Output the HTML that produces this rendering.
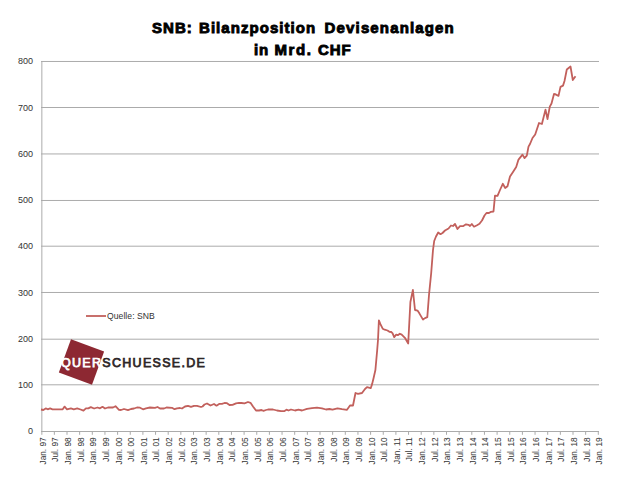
<!DOCTYPE html>
<html><head><meta charset="utf-8"><style>
html,body{margin:0;padding:0;background:#fff;width:620px;height:479px;overflow:hidden}
svg{display:block}
text{font-family:"Liberation Sans",sans-serif}
.yl{font-size:9px;fill:#333}
.xl{font-size:8.3px;fill:#333}
.lg{font-size:8.6px;letter-spacing:0.05px;fill:#333}
.logo{font-size:12.5px;letter-spacing:1.3px;stroke-width:0.75px}
.t1{font-size:15px;font-weight:bold;fill:#000;stroke:#000;stroke-width:0.9px;letter-spacing:0.5px}
</style></head><body>
<svg width="620" height="479" viewBox="0 0 620 479">
<rect width="620" height="479" fill="#ffffff"/>
<line x1="41" y1="61.47" x2="599" y2="61.47" stroke="#ababab" stroke-width="1"/>
<line x1="41" y1="107.5" x2="599" y2="107.5" stroke="#ababab" stroke-width="1"/>
<line x1="41" y1="153.95" x2="599" y2="153.95" stroke="#ababab" stroke-width="1"/>
<line x1="41" y1="200.47" x2="599" y2="200.47" stroke="#ababab" stroke-width="1"/>
<line x1="41" y1="246.2" x2="599" y2="246.2" stroke="#ababab" stroke-width="1"/>
<line x1="41" y1="292.47" x2="599" y2="292.47" stroke="#ababab" stroke-width="1"/>
<line x1="41" y1="339.2" x2="599" y2="339.2" stroke="#ababab" stroke-width="1"/>
<line x1="41" y1="384.8" x2="599" y2="384.8" stroke="#ababab" stroke-width="1"/>
<line x1="41.85" y1="61" x2="41.85" y2="434.8" stroke="#ababab" stroke-width="1"/>
<line x1="41" y1="431.5" x2="599" y2="431.5" stroke="#ababab" stroke-width="1"/>
<line x1="54.35" y1="431" x2="54.35" y2="434.8" stroke="#ababab" stroke-width="1"/>
<line x1="67.00" y1="431" x2="67.00" y2="434.8" stroke="#ababab" stroke-width="1"/>
<line x1="79.65" y1="431" x2="79.65" y2="434.8" stroke="#ababab" stroke-width="1"/>
<line x1="92.30" y1="431" x2="92.30" y2="434.8" stroke="#ababab" stroke-width="1"/>
<line x1="104.95" y1="431" x2="104.95" y2="434.8" stroke="#ababab" stroke-width="1"/>
<line x1="117.60" y1="431" x2="117.60" y2="434.8" stroke="#ababab" stroke-width="1"/>
<line x1="130.25" y1="431" x2="130.25" y2="434.8" stroke="#ababab" stroke-width="1"/>
<line x1="142.90" y1="431" x2="142.90" y2="434.8" stroke="#ababab" stroke-width="1"/>
<line x1="155.55" y1="431" x2="155.55" y2="434.8" stroke="#ababab" stroke-width="1"/>
<line x1="168.20" y1="431" x2="168.20" y2="434.8" stroke="#ababab" stroke-width="1"/>
<line x1="180.85" y1="431" x2="180.85" y2="434.8" stroke="#ababab" stroke-width="1"/>
<line x1="193.50" y1="431" x2="193.50" y2="434.8" stroke="#ababab" stroke-width="1"/>
<line x1="206.15" y1="431" x2="206.15" y2="434.8" stroke="#ababab" stroke-width="1"/>
<line x1="218.80" y1="431" x2="218.80" y2="434.8" stroke="#ababab" stroke-width="1"/>
<line x1="231.45" y1="431" x2="231.45" y2="434.8" stroke="#ababab" stroke-width="1"/>
<line x1="244.10" y1="431" x2="244.10" y2="434.8" stroke="#ababab" stroke-width="1"/>
<line x1="256.75" y1="431" x2="256.75" y2="434.8" stroke="#ababab" stroke-width="1"/>
<line x1="269.40" y1="431" x2="269.40" y2="434.8" stroke="#ababab" stroke-width="1"/>
<line x1="282.05" y1="431" x2="282.05" y2="434.8" stroke="#ababab" stroke-width="1"/>
<line x1="294.70" y1="431" x2="294.70" y2="434.8" stroke="#ababab" stroke-width="1"/>
<line x1="307.35" y1="431" x2="307.35" y2="434.8" stroke="#ababab" stroke-width="1"/>
<line x1="320.00" y1="431" x2="320.00" y2="434.8" stroke="#ababab" stroke-width="1"/>
<line x1="332.65" y1="431" x2="332.65" y2="434.8" stroke="#ababab" stroke-width="1"/>
<line x1="345.30" y1="431" x2="345.30" y2="434.8" stroke="#ababab" stroke-width="1"/>
<line x1="357.95" y1="431" x2="357.95" y2="434.8" stroke="#ababab" stroke-width="1"/>
<line x1="370.60" y1="431" x2="370.60" y2="434.8" stroke="#ababab" stroke-width="1"/>
<line x1="383.25" y1="431" x2="383.25" y2="434.8" stroke="#ababab" stroke-width="1"/>
<line x1="395.90" y1="431" x2="395.90" y2="434.8" stroke="#ababab" stroke-width="1"/>
<line x1="408.55" y1="431" x2="408.55" y2="434.8" stroke="#ababab" stroke-width="1"/>
<line x1="421.20" y1="431" x2="421.20" y2="434.8" stroke="#ababab" stroke-width="1"/>
<line x1="433.85" y1="431" x2="433.85" y2="434.8" stroke="#ababab" stroke-width="1"/>
<line x1="446.50" y1="431" x2="446.50" y2="434.8" stroke="#ababab" stroke-width="1"/>
<line x1="459.15" y1="431" x2="459.15" y2="434.8" stroke="#ababab" stroke-width="1"/>
<line x1="471.80" y1="431" x2="471.80" y2="434.8" stroke="#ababab" stroke-width="1"/>
<line x1="484.45" y1="431" x2="484.45" y2="434.8" stroke="#ababab" stroke-width="1"/>
<line x1="497.10" y1="431" x2="497.10" y2="434.8" stroke="#ababab" stroke-width="1"/>
<line x1="509.75" y1="431" x2="509.75" y2="434.8" stroke="#ababab" stroke-width="1"/>
<line x1="522.40" y1="431" x2="522.40" y2="434.8" stroke="#ababab" stroke-width="1"/>
<line x1="535.05" y1="431" x2="535.05" y2="434.8" stroke="#ababab" stroke-width="1"/>
<line x1="547.70" y1="431" x2="547.70" y2="434.8" stroke="#ababab" stroke-width="1"/>
<line x1="560.35" y1="431" x2="560.35" y2="434.8" stroke="#ababab" stroke-width="1"/>
<line x1="573.00" y1="431" x2="573.00" y2="434.8" stroke="#ababab" stroke-width="1"/>
<line x1="585.65" y1="431" x2="585.65" y2="434.8" stroke="#ababab" stroke-width="1"/>
<line x1="598.30" y1="431" x2="598.30" y2="434.8" stroke="#ababab" stroke-width="1"/>
<text x="33" y="63.75" text-anchor="end" class="yl">800</text>
<text x="33" y="110.50" text-anchor="end" class="yl">700</text>
<text x="33" y="156.70" text-anchor="end" class="yl">600</text>
<text x="33" y="202.60" text-anchor="end" class="yl">500</text>
<text x="33" y="249.00" text-anchor="end" class="yl">400</text>
<text x="33" y="295.50" text-anchor="end" class="yl">300</text>
<text x="33" y="341.50" text-anchor="end" class="yl">200</text>
<text x="33" y="387.60" text-anchor="end" class="yl">100</text>
<text x="33" y="434.40" text-anchor="end" class="yl">0</text>
<text transform="translate(45.60,437.3) rotate(-90)" text-anchor="end" class="xl">Jan. 97</text>
<text transform="translate(58.25,437.3) rotate(-90)" text-anchor="end" class="xl">Jul. 97</text>
<text transform="translate(70.90,437.3) rotate(-90)" text-anchor="end" class="xl">Jan. 98</text>
<text transform="translate(83.55,437.3) rotate(-90)" text-anchor="end" class="xl">Jul. 98</text>
<text transform="translate(96.20,437.3) rotate(-90)" text-anchor="end" class="xl">Jan. 99</text>
<text transform="translate(108.85,437.3) rotate(-90)" text-anchor="end" class="xl">Jul. 99</text>
<text transform="translate(121.50,437.3) rotate(-90)" text-anchor="end" class="xl">Jan. 00</text>
<text transform="translate(134.15,437.3) rotate(-90)" text-anchor="end" class="xl">Jul. 00</text>
<text transform="translate(146.80,437.3) rotate(-90)" text-anchor="end" class="xl">Jan. 01</text>
<text transform="translate(159.45,437.3) rotate(-90)" text-anchor="end" class="xl">Jul. 01</text>
<text transform="translate(172.10,437.3) rotate(-90)" text-anchor="end" class="xl">Jan. 02</text>
<text transform="translate(184.75,437.3) rotate(-90)" text-anchor="end" class="xl">Jul. 02</text>
<text transform="translate(197.40,437.3) rotate(-90)" text-anchor="end" class="xl">Jan. 03</text>
<text transform="translate(210.05,437.3) rotate(-90)" text-anchor="end" class="xl">Jul. 03</text>
<text transform="translate(222.70,437.3) rotate(-90)" text-anchor="end" class="xl">Jan. 04</text>
<text transform="translate(235.35,437.3) rotate(-90)" text-anchor="end" class="xl">Jul. 04</text>
<text transform="translate(248.00,437.3) rotate(-90)" text-anchor="end" class="xl">Jan. 05</text>
<text transform="translate(260.65,437.3) rotate(-90)" text-anchor="end" class="xl">Jul. 05</text>
<text transform="translate(273.30,437.3) rotate(-90)" text-anchor="end" class="xl">Jan. 06</text>
<text transform="translate(285.95,437.3) rotate(-90)" text-anchor="end" class="xl">Jul. 06</text>
<text transform="translate(298.60,437.3) rotate(-90)" text-anchor="end" class="xl">Jan. 07</text>
<text transform="translate(311.25,437.3) rotate(-90)" text-anchor="end" class="xl">Jul. 07</text>
<text transform="translate(323.90,437.3) rotate(-90)" text-anchor="end" class="xl">Jan. 08</text>
<text transform="translate(336.55,437.3) rotate(-90)" text-anchor="end" class="xl">Jul. 08</text>
<text transform="translate(349.20,437.3) rotate(-90)" text-anchor="end" class="xl">Jan. 09</text>
<text transform="translate(361.85,437.3) rotate(-90)" text-anchor="end" class="xl">Jul. 09</text>
<text transform="translate(374.50,437.3) rotate(-90)" text-anchor="end" class="xl">Jan. 10</text>
<text transform="translate(387.15,437.3) rotate(-90)" text-anchor="end" class="xl">Jul. 10</text>
<text transform="translate(399.80,437.3) rotate(-90)" text-anchor="end" class="xl">Jan. 11</text>
<text transform="translate(412.45,437.3) rotate(-90)" text-anchor="end" class="xl">Jul. 11</text>
<text transform="translate(425.10,437.3) rotate(-90)" text-anchor="end" class="xl">Jan. 12</text>
<text transform="translate(437.75,437.3) rotate(-90)" text-anchor="end" class="xl">Jul. 12</text>
<text transform="translate(450.40,437.3) rotate(-90)" text-anchor="end" class="xl">Jan. 13</text>
<text transform="translate(463.05,437.3) rotate(-90)" text-anchor="end" class="xl">Jul. 13</text>
<text transform="translate(475.70,437.3) rotate(-90)" text-anchor="end" class="xl">Jan. 14</text>
<text transform="translate(488.35,437.3) rotate(-90)" text-anchor="end" class="xl">Jul. 14</text>
<text transform="translate(501.00,437.3) rotate(-90)" text-anchor="end" class="xl">Jan. 15</text>
<text transform="translate(513.65,437.3) rotate(-90)" text-anchor="end" class="xl">Jul. 15</text>
<text transform="translate(526.30,437.3) rotate(-90)" text-anchor="end" class="xl">Jan. 16</text>
<text transform="translate(538.95,437.3) rotate(-90)" text-anchor="end" class="xl">Jul. 16</text>
<text transform="translate(551.60,437.3) rotate(-90)" text-anchor="end" class="xl">Jan. 17</text>
<text transform="translate(564.25,437.3) rotate(-90)" text-anchor="end" class="xl">Jul. 17</text>
<text transform="translate(576.90,437.3) rotate(-90)" text-anchor="end" class="xl">Jan. 18</text>
<text transform="translate(589.55,437.3) rotate(-90)" text-anchor="end" class="xl">Jul. 18</text>
<text transform="translate(602.20,437.3) rotate(-90)" text-anchor="end" class="xl">Jan. 19</text>
<polyline points="41,409.5 43.3,410 45.7,408.4 47.7,409.3 50.1,408.4 52.5,409.3 62.7,409.3 64.6,406.6 67,409.3 70.9,408.4 73.8,409.3 77.2,408.4 80.6,409.5 83.5,410.7 85.9,408.4 88.3,408.4 90.8,407.1 94.1,408.5 97.5,407.5 100,408.3 102.5,406.8 105,408.5 108,407.5 113,407.5 115.5,406.2 119,409.8 121,410 124,409 128,410.2 131,409 134,408.5 137,407.5 140,407.7 143,409.3 146,408.3 150,407.5 155,407.8 157.5,407 160,408.5 164,408.5 166.5,407.5 172,407.8 174.5,409.2 177,408.3 180,408 182,408.5 185,406.5 188,405.8 191,406.8 194,405.8 197,405.8 201,407 202.5,406.5 204.5,404.5 207,403.5 210.5,405.5 214,404 216.5,405.7 219.5,403.8 222,403.8 224.5,403 227,403.2 229.5,405 232.5,404.8 236,403.3 239,402.8 241.5,403 244.5,403.3 248,402 250.5,402.8 253,406.5 256,410.5 259,410.5 261.5,410 263.5,410.8 266,410 268,409.5 273,409.5 277,410.5 281,411.2 284.5,411 286.5,409.7 288.5,410.5 291,409.5 295,410.5 298.5,409.7 302,410.5 307,408.8 312,408.2 317,407.7 322,408.3 326,409.5 329.5,409 332.5,409.7 337.5,408.3 342,409.2 347,409.8 350,405.5 353,405.5 355.5,393 358,393.8 362,393 365,389 367,387.2 370.7,388.2 372.1,384.1 373.6,378 375.4,370 376.3,360 377.2,350 378,340 378.9,320.3 380.3,323.9 382.7,328.7 384.7,329.7 387.5,330.5 389.4,331.8 391.4,332 392.6,333.4 394.2,337.1 396.2,334.6 397.8,335.2 399.8,333.7 401.7,334.6 404.9,337.8 408.2,343.5 410.4,302 412.9,290 415,310 417.5,310.6 419.5,313.6 423,319.6 425,318.1 427.3,317.1 429,295 431.2,273 433,250 434.2,241 436,236.5 438.2,232.5 440.5,234.2 442.5,233 445,230.5 448.5,228.5 451,225.5 453,226 455,224 457.5,229 460,226.2 463,226.2 466,224.3 468.5,224.8 470,226 471.8,224 474,226.7 477,225.2 479.5,223.8 482,220.5 484.5,215.5 486.5,213 489,213 491,211.8 493.5,211.5 495,195.6 497.5,195.9 500,190 502.8,183.8 505.2,188 507.5,186.3 510,176.5 513,172 516.2,167 518.5,159.6 522.5,154.6 524.5,158.1 526.8,155.6 528.5,146.6 530,144 532.5,138 535.2,134.5 539,123 541.9,124 545.5,109.6 547.5,119.1 549.8,106.6 551.5,103.5 554,94 555,94.1 558.5,95.9 560.5,86.9 563,85.6 564.5,81 566.8,69.5 570.5,66.5 572.8,80 575.5,76.2" fill="none" stroke="#c2605c" stroke-width="1.8" stroke-linejoin="round"/>
<line x1="86" y1="316" x2="106" y2="316" stroke="#c2605c" stroke-width="1.8"/>
<text x="107" y="318.8" class="lg">Quelle: SNB</text>
<g transform="translate(81.5,362) rotate(20.1)"><rect x="-17.65" y="-17.65" width="35.3" height="35.3" fill="#8d2832"/></g>
<text x="61" y="367.3" class="logo"><tspan fill="#ffffff" stroke="#ffffff">QUER</tspan><tspan fill="#2e2727" stroke="#2e2727">SCHUESSE.DE</tspan></text>
<text x="152.0" y="32.6" class="t1" style="letter-spacing:1.04px">SNB:</text>
<text x="199.0" y="32.6" class="t1" style="letter-spacing:1.05px">Bilanzposition</text>
<text x="324.6" y="32.6" class="t1" style="letter-spacing:1.15px">Devisenanlagen</text>
<text x="254.0" y="54.8" class="t1" style="letter-spacing:0.8px">in</text>
<text x="274.5" y="54.8" class="t1" style="letter-spacing:1.57px">Mrd.</text>
<text x="318.0" y="54.8" class="t1" style="letter-spacing:0.9px">CHF</text>
</svg>
</body></html>
